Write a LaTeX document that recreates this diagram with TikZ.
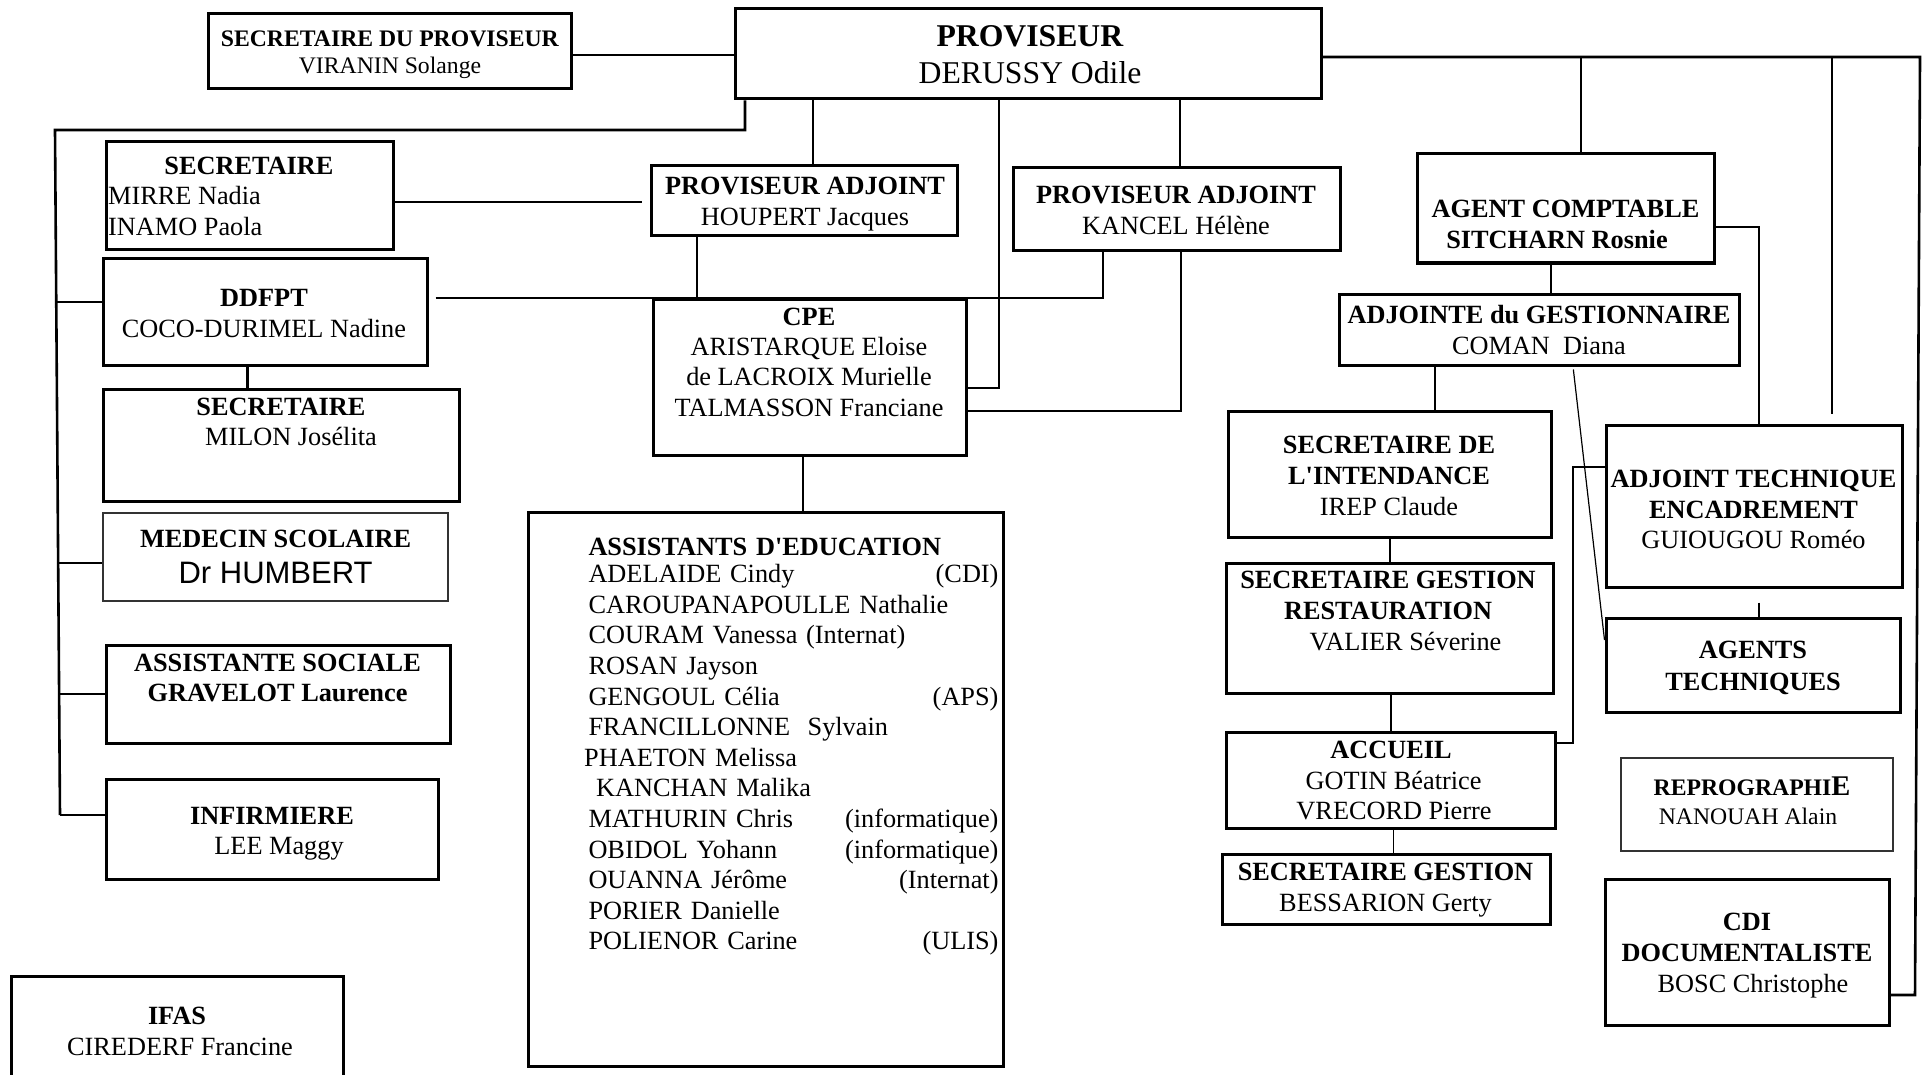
\documentclass[tikz,border=0pt]{standalone}
\usepackage{fontspec}
\setmainfont{Liberation Serif}
\newfontfamily\sansf{Liberation Sans}
\usetikzlibrary{fit}
\newcommand\fz[2]{\fontsize{#1}{#2}\selectfont}

\begin{document}
\begin{tikzpicture}[x=1pt,y=-1pt,
  bx/.style={draw, line width=3pt, inner sep=0pt},
  tbx/.style={draw=black!80, line width=1.4pt, inner sep=0pt},
  ln/.style={line width=2.6pt},
  tln/.style={line width=1.2pt},
  tx/.style={anchor=base, inner sep=0pt, align=center},
]
\useasboundingbox (0,0) rectangle (1926,1075);
\clip (0,0) rectangle (1926,1075);
\fill[white] (0,0) rectangle (1926,1075);

% ---------- boxes ----------
\node[bx, fit={(208,14) (571,89)}] (secp) {};
\node[bx, fit={(735,9) (1321,99)}] (prov) {};
\node[bx, fit={(106,142) (393,250)}] (sec1) {};
\node[bx, fit={(103,259) (427,365)}] (ddfpt) {};
\node[bx, fit={(103,389) (459,501)}] (sec2) {};
\node[tbx, fit={(103,513) (448,601)}] (med) {};
\node[bx, fit={(106,645) (450,743)}] (asoc) {};
\node[bx, fit={(106,779) (438,879)}] (inf) {};
\node[bx, fit={(11,976) (343,1095)}] (ifas) {};
\node[bx, fit={(651,166) (957,236)}] (pa1) {};
\node[bx, fit={(1013,168) (1340,251)}] (pa2) {};
\node[bx, fit={(653,299) (966,455)}] (cpe) {};
\node[bx, fit={(528,512) (1003,1066)}] (aed) {};
\node[bx, fit={(1417,154) (1714,263)}] (ac) {};
\node[bx, fit={(1339,294) (1739,365)}] (adg) {};
\node[bx, fit={(1228,411) (1551,537)}] (sint) {};
\node[bx, fit={(1226,563) (1553,693)}] (sres) {};
\node[bx, fit={(1226,732) (1555,828)}] (acc) {};
\node[bx, fit={(1222,854) (1550,924)}] (sges) {};
\node[bx, fit={(1606,425) (1902,587)}] (atec) {};
\node[bx, fit={(1606,618) (1900,712)}] (agt) {};
\node[tbx, fit={(1621,758) (1893,851)}] (repro) {};
\node[bx, fit={(1605,879) (1889,1025)}] (cdi) {};

% ---------- texts (anchor = baseline of the last line) ----------
\node[tx, font=\fz{23.7}{27.3}] (secpT) at (390,74) {\textbf{SECRETAIRE DU PROVISEUR}\\VIRANIN Solange};
\node[tx, font=\fz{31.7}{36.6}] (provT) at (1030,83.3) {\textbf{PROVISEUR}\\DERUSSY Odile};
\node[tx, font=\fz{26.3}{30.5}] (sec1T) at (249,175) {\textbf{SECRETAIRE}};
\node[anchor=base west, inner sep=0pt, align=left, font=\fz{26.3}{30.7}] (sec1N) at (108,235.7) {MIRRE Nadia\\INAMO Paola};
\node[tx, font=\fz{26.3}{30.7}] (pa1T) at (805,225.7) {\textbf{PROVISEUR ADJOINT}\\HOUPERT Jacques};
\node[tx, font=\fz{26.3}{30.3}] (pa2T) at (1176,234.3) {\textbf{PROVISEUR ADJOINT}\\KANCEL Hélène};
\node[tx, font=\fz{26.3}{30.6}] (ddfptT) at (264,337.3) {\textbf{DDFPT}\\COCO-DURIMEL Nadine};
\node[tx, font=\fz{26.3}{30}] (sec2T) at (281,445) {\textbf{SECRETAIRE}\\\hspace*{20pt}MILON Josélita};
\node[tx, font=\fz{26.3}{30.5}] (medT) at (275.6,583.3) {\textbf{MEDECIN SCOLAIRE}\\[5.1pt]{\sansf\fz{31}{36}Dr HUMBERT}};
\node[tx, font=\fz{26.3}{30}] (asocT) at (277.5,701.7) {\textbf{ASSISTANTE SOCIALE}\\\textbf{GRAVELOT Laurence}};
\node[tx, font=\fz{26.3}{30}] (infT) at (272,854) {\textbf{INFIRMIERE}\\\hspace*{14pt}LEE Maggy};
\node[tx, font=\fz{26.3}{31}] (ifasT) at (177,1055) {\textbf{IFAS}\\\hspace*{6pt}CIREDERF Francine};
\node[tx, font=\fz{26.3}{30.3}] (cpeT) at (809,416) {\textbf{CPE}\\ARISTARQUE Eloise\\de LACROIX Murielle\\TALMASSON Franciane};
\node[anchor=base west, inner sep=0pt, text width=410pt, align=left, font=\fz{26.3}{30.6}] (aedT) at (588.3,555) {%
\textbf{ASSISTANTS D\textquotesingle EDUCATION}\\[-2.9pt]
ADELAIDE Cindy\hspace{\stretch{1}}(CDI)\\
CAROUPANAPOULLE Nathalie\\
COURAM Vanessa (Internat)\\
ROSAN Jayson\\
GENGOUL Célia\hspace{\stretch{1}}(APS)\hspace*{1.6pt}\\
FRANCILLONNE~ Sylvain\\
\hspace*{-4.3pt}PHAETON Melissa\\
\hspace*{7.7pt}KANCHAN Malika\\
MATHURIN Chris\hspace{\stretch{1}}(informatique)\hspace*{-1.7pt}\\
OBIDOL Yohann\hspace{\stretch{1}}(informatique)\hspace*{3.3pt}\\
OUANNA Jérôme\hspace{\stretch{1}}(Internat)\hspace*{1pt}\\
PORIER Danielle\\
POLIENOR Carine\hspace{\stretch{1}}(ULIS)};
\node[tx, font=\fz{26.3}{31}] (acT) at (1565.5,248.3) {\textbf{AGENT COMPTABLE}\\\textbf{SITCHARN Rosnie}\hspace*{17pt}};
\node[tx, font=\fz{26.3}{30.7}] (adgT) at (1539,354) {\textbf{ADJOINTE du GESTIONNAIRE}\\COMAN~ Diana};
\node[tx, font=\fz{26.3}{31}] (sintT) at (1389,515) {\textbf{SECRETAIRE DE}\\\textbf{L\textquotesingle INTENDANCE}\\IREP Claude};
\node[tx, font=\fz{26.3}{30.8}] (sresT) at (1388,650) {\textbf{SECRETAIRE GESTION}\\\textbf{RESTAURATION}\\\hspace*{35pt}VALIER Séverine};
\node[tx, font=\fz{26.3}{30.2}] (accT) at (1391,819.3) {\textbf{ACCUEIL}\\\hspace*{5pt}GOTIN Béatrice\\\hspace*{6pt}VRECORD Pierre};
\node[tx, font=\fz{26.3}{31}] (sgesT) at (1385.5,911) {\textbf{SECRETAIRE GESTION}\\BESSARION Gerty};
\node[tx, font=\fz{26.3}{30.7}] (atecT) at (1753.5,548.7) {\textbf{ADJOINT TECHNIQUE}\\\textbf{ENCADREMENT}\\GUIOUGOU Roméo};
\node[tx, font=\fz{26.3}{31.7}] (agtT) at (1753,690) {\textbf{AGENTS}\\\textbf{TECHNIQUES}};
\node[tx, font=\fz{23.7}{29}] (reproT) at (1752,824) {\textbf{REPROGRAPHI{\fz{28.5}{29}E}}\\NANOUAH Alain\hspace*{8pt}};
\node[tx, font=\fz{26.3}{30.8}] (cdiT) at (1747,992.3) {\textbf{CDI}\\\textbf{DOCUMENTALISTE}\\\hspace*{12pt}BOSC Christophe};

% ---------- named free ends ----------
\coordinate (lbT) at (55,130);
\coordinate (lbB) at (60,815);
\coordinate (lb1) at (56,302);
\coordinate (lb2) at (57,563);
\coordinate (lb3) at (58,694);
\coordinate (rbT) at (1920,57);
\coordinate (rbB) at (1915,995);
\coordinate (rb1) at (1581,57);
\coordinate (rb2) at (1832,57);
\coordinate (hb) at (697,298);
\coordinate (accR) at (1573,743);
\coordinate (accU) at (1573,467);

% ---------- connectors ----------
\draw[ln] (secp.east |- 0,55) -- (prov.west |- 0,55);
\draw[ln] (prov.south -| 745,0) |- (lbT) -- (lbB);
\draw[ln] (lb1) -- (ddfpt.west |- lb1);
\draw[tln] (lb2) -- (med.west |- lb2);
\draw[tln] (lb3) -- (asoc.west |- lb3);
\draw[ln] (lbB) -- (inf.west |- lbB);
\draw[ln, shorten >=8pt] (sec1.east |- 0,202) -- (pa1.west |- 0,202);
\draw[ln] (prov.south -| 813,0) -- (pa1.north -| 813,0);
\draw[ln] (prov.south -| 1180,0) -- (pa2.north -| 1180,0);
\draw[ln] (pa2.south -| 1181,0) |- (cpe.east |- 0,411);
\draw[ln] (prov.south -| 999,0) |- (cpe.east |- 0,388);
\draw[ln] (pa1.south -| 697,0) -- (hb);
\draw[ln, shorten <=7pt] (ddfpt.east |- 0,298) -| (pa2.south -| 1103,0);
\draw[ln] (ddfpt.south -| 247.5,0) -- (sec2.north -| 247.5,0);
\draw[ln] (cpe.south -| 803,0) -- (aed.north -| 803,0);

\draw[ln] (prov.east |- rbT) -- (rbT) -- (rbB) -- (cdi.east |- rbB);
\draw[ln] (rb1) -- (ac.north -| rb1);
\draw[ln, shorten >=10pt] (rb2) -- (atec.north -| rb2);
\draw[ln] (ac.east |- 0,227) -| (atec.north -| 1759,0);
\draw[ln] (ac.south -| 1551,0) -- (adg.north -| 1551,0);
\draw[ln] (adg.south -| 1435,0) -- (sint.north -| 1435,0);
\draw[tln, shorten <=3pt] (adg.south -| 1573,0) -- (agt.west |- 0,640);
\draw[ln] (sint.south -| 1390,0) -- (sres.north -| 1390,0);
\draw[tln] (sres.south -| 1391,0) -- (acc.north -| 1391,0);
\draw[ln] (acc.east |- accR) -- (accR) -- (accU) -- (atec.west |- accU);
\draw[tln] (acc.south -| 1393.5,0) -- (sges.north -| 1393.5,0);
\draw[ln, shorten <=14pt] (atec.south -| 1759,0) -- (agt.north -| 1759,0);
\end{tikzpicture}
\end{document}
